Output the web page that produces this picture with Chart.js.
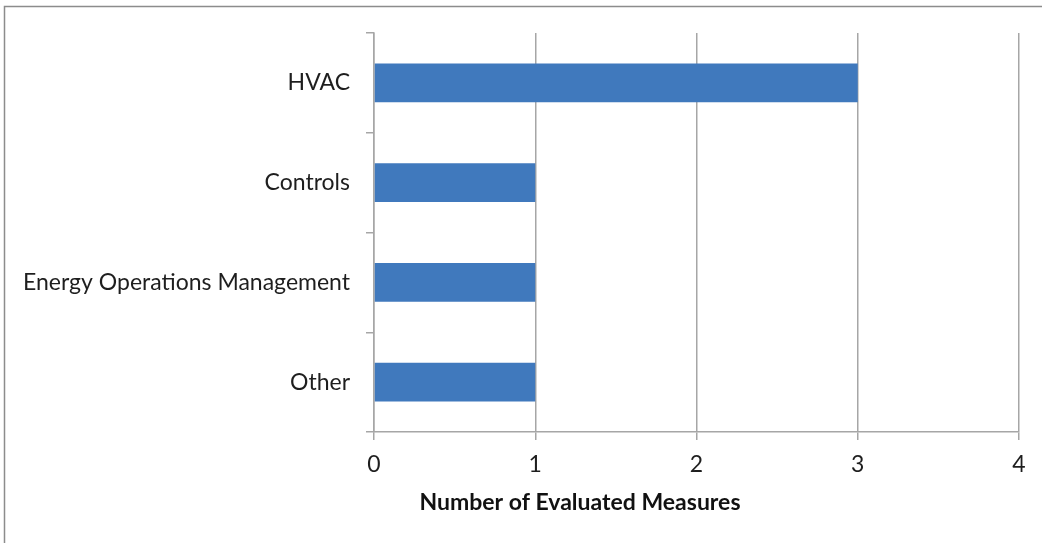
<!DOCTYPE html>
<html>
<head>
<meta charset="utf-8">
<script src="https://cdn.jsdelivr.net/npm/chart.js@4/dist/chart.umd.min.js"></script>
<style>
    html, body { margin: 0; padding: 0; background: #ffffff; }
    #wrap { width: 1042px; height: 543px; position: relative; }
</style>
</head>
<body>
<div id="wrap"><canvas id="measuresChart"></canvas></div>
<script>
// Chart data
const categories = ['HVAC', 'Controls', 'Energy Operations Management', 'Other'];
const measureCounts = [3, 1, 1, 1];
const xTickValues = [0, 1, 2, 3, 4];
const axisTitle = 'Number of Evaluated Measures';

const fontFamily = 'Lato, "Open Sans", sans-serif';
const gridColor = '#a6a6a6';

// Outer frame and x-axis title drawn on the canvas
const framePlugin = {
    id: 'frame',
    beforeDraw(chart) {
        const ctx = chart.ctx;
        ctx.save();
        ctx.strokeStyle = '#8c8c8c';
        ctx.lineWidth = 1.5;
        ctx.beginPath();
        ctx.moveTo(4.5, chart.height);
        ctx.lineTo(4.5, 6.5);
        ctx.lineTo(chart.width, 6.5);
        ctx.stroke();
        ctx.restore();
    },
    afterDraw(chart) {
        const ctx = chart.ctx;
        ctx.save();
        ctx.font = 'bold 23px ' + fontFamily;
        ctx.fillStyle = '#111111';
        ctx.textAlign = 'center';
        ctx.textBaseline = 'middle';
        ctx.fillText(axisTitle, 580, 503);
        ctx.restore();
    }
};

const ctx = document.getElementById('measuresChart').getContext('2d');
const measuresChart = new Chart(ctx, {
    type: 'bar',
    data: {
        labels: categories,
        datasets: [{
            data: measureCounts,
            backgroundColor: '#4079bd',
            borderWidth: 0,
            barPercentage: 0.39,
            categoryPercentage: 1.0
        }]
    },
    options: {
        indexAxis: 'y',
        responsive: true,
        maintainAspectRatio: false,
        animation: false,
        layout: {
            padding: { top: 33, right: 23, left: 0, bottom: 0 }
        },
        plugins: {
            legend: { display: false },
            tooltip: { enabled: false }
        },
        scales: {
            x: {
                min: 0,
                max: 4,
                afterBuildTicks(scale) {
                    scale.ticks = xTickValues.map(v => ({ value: v }));
                },
                afterFit(scale) {
                    scale.height = 111;
                },
                grid: {
                    color: gridColor,
                    lineWidth: 1.5,
                    drawTicks: true,
                    tickLength: 8
                },
                border: { display: true, color: gridColor, width: 1.5 },
                ticks: {
                    color: '#1e1e1e',
                    font: { family: fontFamily, size: 23 },
                    padding: 11
                }
            },
            y: {
                offset: true,
                afterFit(scale) {
                    scale.width = 374;
                },
                grid: {
                    offset: true,
                    drawOnChartArea: false,
                    drawTicks: true,
                    tickLength: 8,
                    color: gridColor,
                    lineWidth: 1.5
                },
                border: { display: true, color: gridColor, width: 1.5 },
                ticks: {
                    color: '#1e1e1e',
                    font: { family: fontFamily, size: 23 },
                    padding: 16
                }
            }
        }
    },
    plugins: [framePlugin]
});
</script>
</body>
</html>
